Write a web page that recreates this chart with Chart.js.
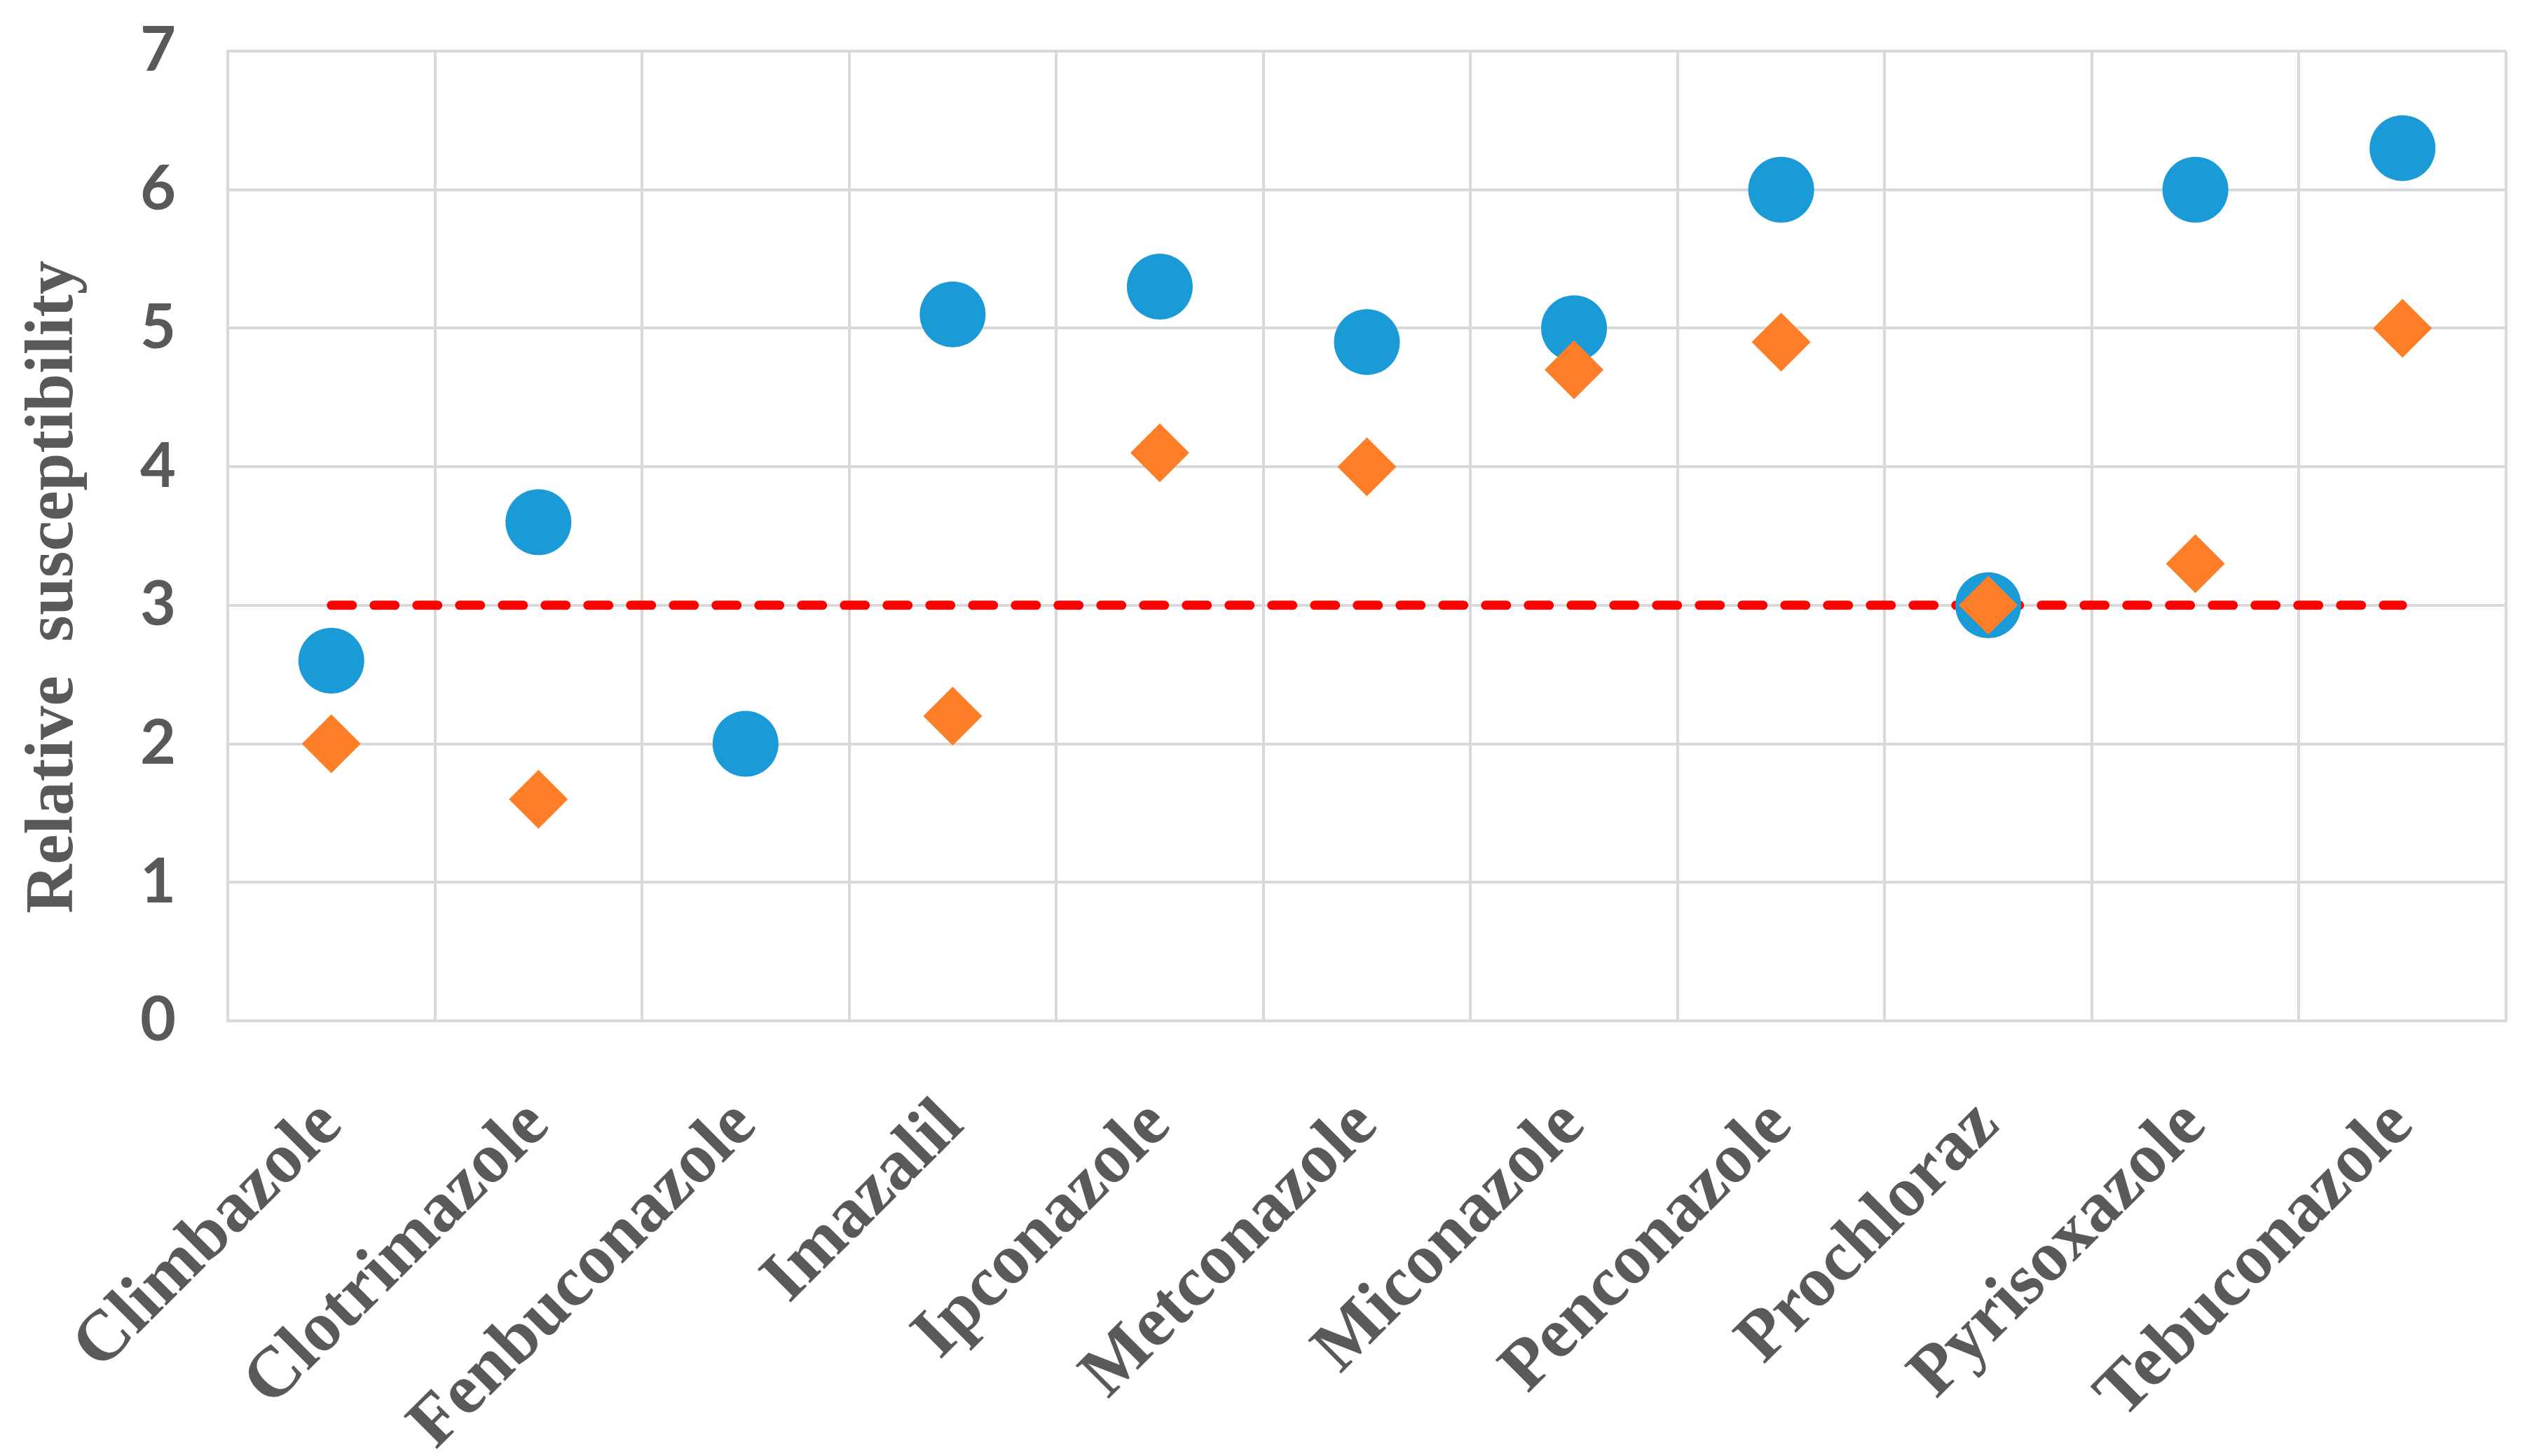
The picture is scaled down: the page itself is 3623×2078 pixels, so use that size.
<!DOCTYPE html>
<html>
<head>
<meta charset="utf-8">
<script src="https://cdn.jsdelivr.net/npm/chart.js@4"></script>
<style>
  html, body { margin: 0; padding: 0; background: #ffffff; }
</style>
</head>
<body>
<canvas id="chart" width="3623" height="2078"></canvas>
<script>
const categories = ['Climbazole', 'Clotrimazole', 'Fenbuconazole', 'Imazalil', 'Ipconazole',
    'Metconazole', 'Miconazole', 'Penconazole', 'Prochloraz', 'Pyrisoxazole', 'Tebuconazole'];
const circleValues = [2.6, 3.6, 2.0, 5.1, 5.3, 4.9, 5.0, 6.0, 3.0, 6.0, 6.3];
const diamondValues = [2.0, 1.6, null, 2.2, 4.1, 4.0, 4.7, 4.9, 3.0, 3.3, 5.0];
const thresholdValues = [3, 3, 3, 3, 3, 3, 3, 3, 3, 3, 3];
const yTicks = [0, 1, 2, 3, 4, 5, 6, 7];

const gridColor = '#d9d9d9';
const textColor = '#595959';

const ctx = document.getElementById('chart');

new Chart(ctx, {
    type: 'line',
    data: {
        labels: categories,
        datasets: [
            {
                label: 'Threshold',
                data: thresholdValues,
                borderColor: '#ff0000',
                borderWidth: 13,
                borderDash: [30, 31],
                borderCapStyle: 'round',
                pointRadius: 0,
                fill: false,
                order: 3
            },
            {
                label: 'Circle',
                data: circleValues,
                showLine: false,
                pointStyle: 'circle',
                pointRadius: 47,
                pointBackgroundColor: '#1a9ad6',
                pointBorderWidth: 0,
                order: 2
            },
            {
                label: 'Diamond',
                data: diamondValues,
                showLine: false,
                pointStyle: 'rectRot',
                pointRadius: 42,
                pointBackgroundColor: '#fd7e26',
                pointBorderWidth: 0,
                order: 1
            }
        ]
    },
    options: {
        responsive: false,
        animation: false,
        devicePixelRatio: 1,
        layout: {
            padding: { left: 20, right: 27, top: 73, bottom: 0 }
        },
        plugins: {
            legend: { display: false },
            tooltip: { enabled: false }
        },
        scales: {
            x: {
                offset: true,
                grid: {
                    offset: true,
                    color: gridColor,
                    lineWidth: 4,
                    drawTicks: false
                },
                border: { color: gridColor, width: 4 },
                ticks: {
                    color: textColor,
                    maxRotation: 45,
                    minRotation: 45,
                    padding: 90,
                    font: { family: 'Liberation Serif', size: 102, weight: 'bold' }
                },
                afterFit: function (scale) { scale.height = 621; }
            },
            y: {
                min: 0,
                max: 7,
                afterBuildTicks: function (scale) {
                    scale.ticks = yTicks.map(v => ({ value: v }));
                },
                grid: {
                    color: gridColor,
                    lineWidth: 4,
                    drawTicks: false
                },
                border: { color: gridColor, width: 4 },
                ticks: {
                    color: textColor,
                    padding: 74,
                    font: { family: 'Lato', size: 88, weight: 'bold' }
                },
                title: {
                    display: true,
                    // trailing spaces nudge the title a little lower, as in the original
                    text: 'Relative  susceptibility      ',
                    color: textColor,
                    padding: 0,
                    font: { family: 'Liberation Serif', size: 97, weight: 'bold' }
                },
                afterFit: function (scale) {
                    scale.width = 305;
                    // tick padding would otherwise push the plot top down
                    scale.paddingTop = 20;
                    scale.paddingBottom = 20;
                }
            }
        }
    }
});
</script>
</body>
</html>
